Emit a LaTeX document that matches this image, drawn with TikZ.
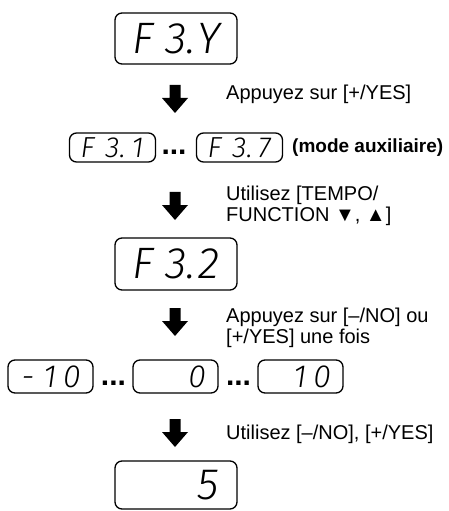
\documentclass[tikz,border=0pt]{standalone}
\usepackage{fontspec}
\setmainfont{Liberation Sans}
\newfontfamily\segfont{Fira Sans Light Italic}
\usetikzlibrary{calc}
\newcommand\dcell[2]{\makebox[#1][c]{#2}}
\tikzset{
  dispbox/.style={draw, line width=1.3bp, rounded corners=7bp, inner sep=0pt, minimum height=#1},
  bigseg/.style={font=\fontsize{44bp}{44bp}\segfont},
  smallseg/.style={font=\fontsize{29bp}{29bp}\segfont},
  midseg/.style={font=\fontsize{32bp}{32bp}\segfont},
  lbl/.style={anchor=west, inner sep=0pt, align=left, font=\fontsize{20bp}{21bp}\selectfont},
  ellip/.style={anchor=base, inner sep=0pt, font=\fontsize{30bp}{30bp}\selectfont\bfseries},
  pics/downarrow/.style={code={
    \fill[black] (-5.5,0) -- (5.5,0) -- (5.5,13) -- (13,13) -- (0,28) -- (-13,13) -- (-5.5,13) -- cycle;
  }}
}
\begin{document}
\begin{tikzpicture}[x=1bp,y=-1bp]
\useasboundingbox (0,0) rectangle (449,511);
% row 1
\node[dispbox=51bp, bigseg] (d1) at (176,38.5)
  {\makebox[122bp][c]{\dcell{33bp}{F}\dcell{33bp}{3\rlap{.}}\dcell{33bp}{Y}}};
\pic (a1) at (175,85) {downarrow};
\node[lbl] (t1) at (226,94) {Appuyez sur [+/YES]};
% row 2
\node[dispbox=29bp, smallseg] (d21) at (112.5,147.5)
  {\makebox[86bp][c]{\dcell{25bp}{F}\dcell{25bp}{3\rlap{.}}\dcell{25bp}{1}}};
\node[ellip] (e2) at (174,155) {...};
\node[dispbox=29bp, smallseg] (d27) at (239.5,147.5)
  {\makebox[86bp][c]{\dcell{25bp}{F}\dcell{25bp}{3\rlap{.}}\dcell{25bp}{7}}};
\node[lbl, font=\fontsize{19bp}{20bp}\selectfont\bfseries] (m2) at (292,148) {(mode auxiliaire)};
\pic (a2) at (175,192) {downarrow};
\node[lbl] (t2) at (226,206) {Utilisez [TEMPO/\\FUNCTION ▼, ▲]};
% row 3
\node[dispbox=52bp, bigseg] (d3) at (176,264)
  {\makebox[122bp][c]{\dcell{33bp}{F}\dcell{33bp}{3\rlap{.}}\dcell{33bp}{2}}};
\pic (a3) at (175,308) {downarrow};
\node[lbl] (t3) at (226,328) {Appuyez sur [–/NO] ou\\{}[+/YES] une fois};
% row 4
\node[dispbox=33bp, midseg] (d4a) at (50.5,376.5)
  {\makebox[85bp][r]{\dcell{22bp}{-}\dcell{22bp}{1}\dcell{22bp}{0}\hspace{10bp}}};
\node[ellip] (e4a) at (113.5,385) {...};
\node[dispbox=33bp, midseg] (d4b) at (175.5,376.5)
  {\makebox[85bp][r]{\dcell{22bp}{0}\hspace{10bp}}};
\node[ellip] (e4b) at (238.5,385) {...};
\node[dispbox=33bp, midseg] (d4c) at (300.5,376.5)
  {\makebox[85bp][r]{\dcell{22bp}{1}\dcell{22bp}{0}\hspace{10bp}}};
\pic (a4) at (175,419) {downarrow};
\node[lbl] (t4) at (226,434) {Utilisez [–/NO], [+/YES]};
% row 5
\node[dispbox=48bp, bigseg] (d5) at (176,485)
  {\makebox[122bp][r]{\dcell{32bp}{5}\hspace{13bp}}};
\end{tikzpicture}
\end{document}
